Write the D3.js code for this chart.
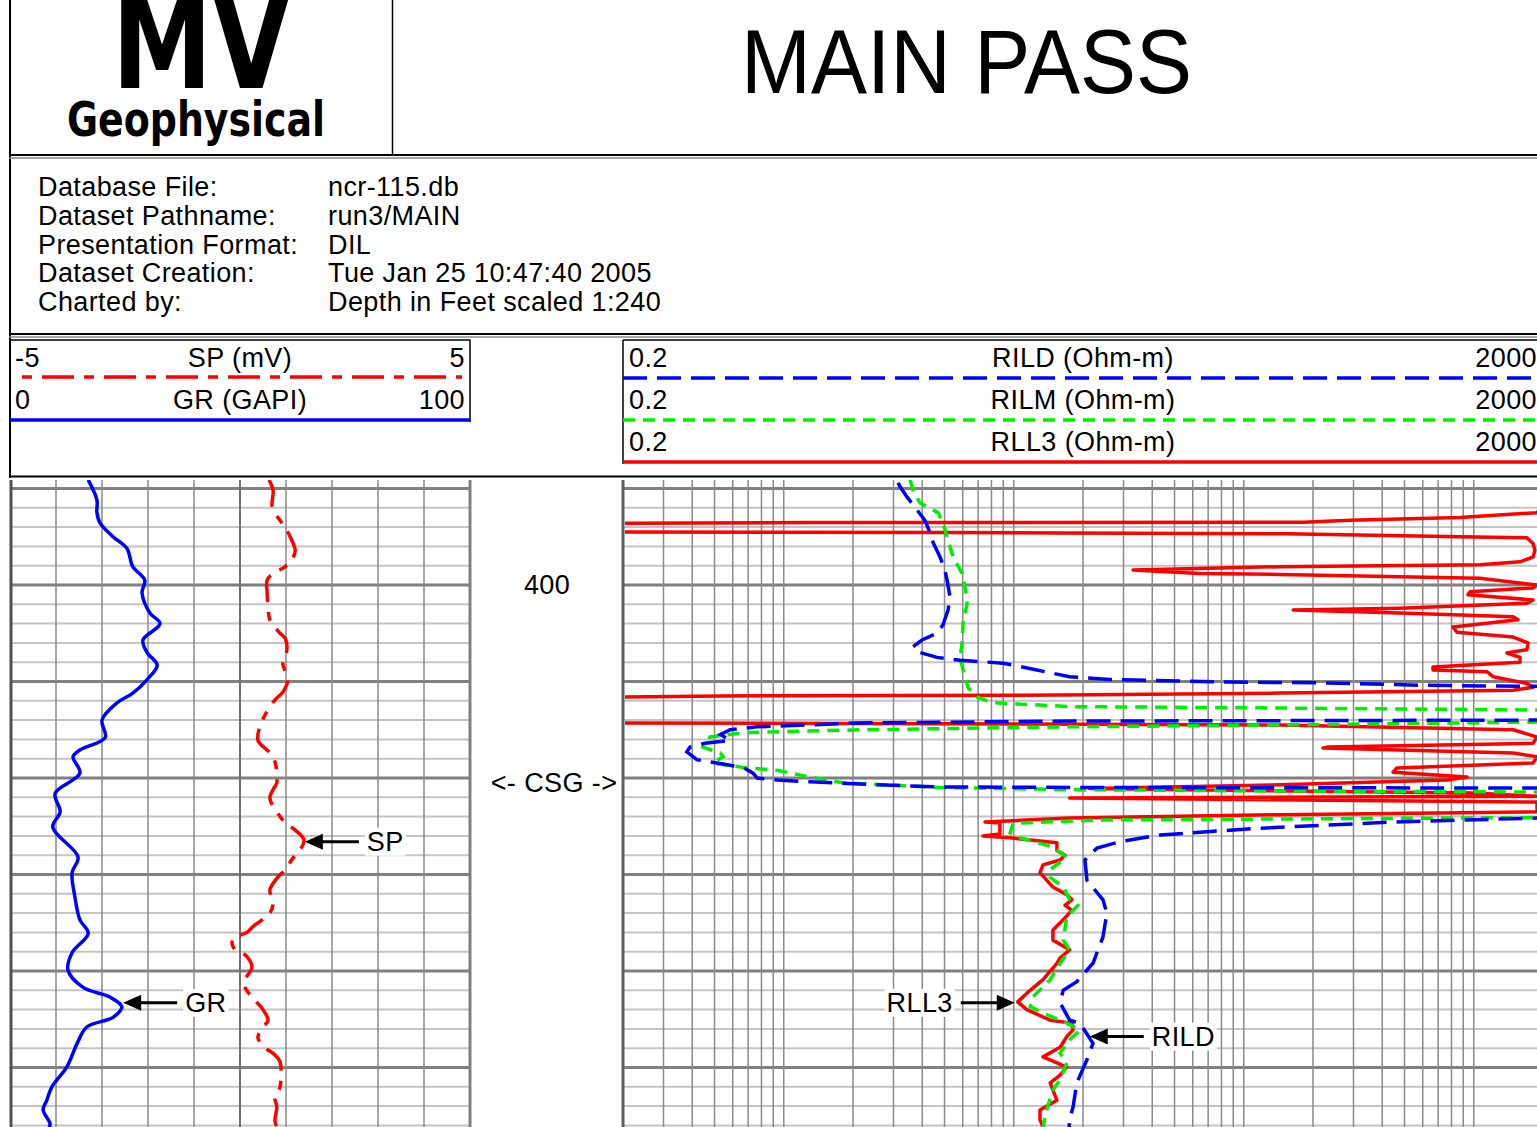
<!DOCTYPE html>
<html><head><meta charset="utf-8">
<script src="https://cdn.jsdelivr.net/npm/d3@7"></script>
<style>
body{margin:0;background:#fff;overflow:hidden}
text{font-family:"Liberation Sans",Arial,sans-serif;fill:#000}
</style>
</head><body>
<svg id="c" width="1537" height="1127" xmlns="http://www.w3.org/2000/svg"></svg>
<script>
// ---------------- DATA ----------------
const titleText = "MAIN PASS";
const infoLabels = ["Database File:", "Dataset Pathname:", "Presentation Format:", "Dataset Creation:", "Charted by:"];
const infoValues = ["ncr-115.db", "run3/MAIN", "DIL", "Tue Jan 25 10:47:40 2005", "Depth in Feet scaled 1:240"];

const spLegend = ["-5", "SP (mV)", "5"];
const grLegend = ["0", "GR (GAPI)", "100"];
const resLegend = [["0.2", "RILD (Ohm-m)", "2000"], ["0.2", "RILM (Ohm-m)", "2000"], ["0.2", "RLL3 (Ohm-m)", "2000"]];

const depthLabels = [400];
const casingLabel = "<- CSG ->";
const casingDepth = 420.5;

// [depth ft, GAPI]
const grData = [[389.1,17.0],[391.2,18.9],[392.5,18.9],[393.6,19.6],[395.0,22.4],[396.2,25.4],[398.1,26.7],[399.5,29.3],[400.8,28.7],[402.9,30.4],[404.0,32.6],[405.7,28.9],[407.0,29.8],[408.3,32.0],[409.8,29.8],[411.2,26.7],[412.2,23.3],[414.0,20.0],[415.8,20.7],[417.1,15.2],[417.8,13.7],[419.5,15.2],[421.6,9.8],[423.5,10.9],[425.1,9.3],[428.2,14.8],[429.8,13.5],[432.3,14.1],[434.7,15.2],[436.1,17.0],[438.1,13.5],[439.9,12.6],[441.7,15.9],[442.7,21.7],[443.7,24.3],[444.8,22.4],[445.8,16.7],[447.5,14.6],[449.9,12.4],[452.0,9.1],[453.4,8.0],[454.4,7.2],[455.8,8.7],[456.2,8.5]];

// [depth ft, mV]
const spData = [[389.1,0.63],[390.2,0.72],[391.9,0.70],[393.3,0.87],[394.0,0.98],[395.0,1.09],[396.4,1.20],[397.2,1.15],[398.1,0.98],[398.8,0.72],[399.5,0.59],[400.8,0.59],[402.3,0.61],[403.6,0.65],[405.0,0.87],[405.5,0.98],[406.7,1.02],[408.1,0.93],[409.8,1.04],[411.1,0.93],[411.9,0.76],[413.5,0.54],[414.7,0.43],[416.1,0.39],[417.4,0.65],[418.3,0.76],[419.5,0.80],[420.5,0.80],[421.2,0.72],[422.1,0.65],[424.0,0.87],[424.6,0.98],[425.4,1.20],[426.4,1.39],[427.5,1.30],[428.3,1.15],[429.5,0.98],[430.4,0.80],[431.6,0.65],[433.0,0.72],[434.0,0.65],[434.5,0.54],[435.4,0.28],[436.0,0.15],[436.6,-0.15],[437.5,-0.15],[438.5,0.15],[439.6,0.26],[440.9,0.11],[441.7,0.11],[442.8,0.28],[444.0,0.50],[445.1,0.61],[445.8,0.50],[446.9,0.39],[447.9,0.54],[448.7,0.76],[449.4,0.87],[452.0,0.87],[453.1,0.76],[454.1,0.80],[455.5,0.76],[456.2,0.80]];

// [depth ft, Ohm-m]  (values below 0.2 / above 2000 run off the track)
const rll3Data = [[389.1,2500],[391.7,2500],[392.5,1884],[393.0,871],[393.3,290],[393.5,181],[393.52,1.3],[393.6,0.1],[394.5,0.1],[394.56,5.3],[394.6,15.9],[394.7,154],[395.0,871],[395.1,1702],[395.7,1811],[396.4,1845],[397.1,1811],[397.6,1589],[397.9,1064],[398.1,144],[398.45,33],[398.8,64.5],[398.9,144],[399.3,1064],[400.0,1884],[400.3,1811],[400.7,964],[401.0,944],[401.55,1811],[401.9,1702],[402.4,478],[402.6,164],[402.9,478],[403.3,1483],[403.6,1556],[404.35,813],[404.9,845],[405.4,1483],[406.0,1722],[406.7,1702],[407.05,1393],[407.5,1589],[408.0,1589],[408.5,665],[408.8,665],[409.0,1143],[409.5,1213],[410.2,1702],[410.6,1811],[410.9,1483],[411.2,144],[411.4,15.9],[411.5,0.53],[411.6,0.1],[414.3,0.1],[414.35,2.08],[414.5,144],[415.0,1483],[415.75,1884],[416.4,1811],[416.8,230],[416.9,221],[417.4,1483],[417.8,1884],[418.45,1811],[418.96,463],[419.4,446],[419.9,935],[420.2,766],[420.7,144],[421.1,21.4],[421.55,1000],[421.9,1884],[422.07,17.5],[422.5,1884],[423.5,1884],[423.8,144],[424.15,17.5],[424.56,7.5],[424.66,8.7],[425.8,8.7],[426.0,7.35],[426.2,9.64],[426.7,15.4],[427.5,15.4],[428.0,16.7],[428.5,15.9],[429.0,13.4],[429.8,13.0],[431.3,14.8],[432.1,17.0],[432.6,17.9],[433.2,16.7],[433.7,17.9],[434.5,16.7],[435.75,14.8],[436.8,14.8],[437.8,17.5],[438.65,15.9],[439.2,15.4],[440.9,13.4],[442.3,11.4],[443.2,10.4],[444.0,11.4],[445.1,14.4],[445.4,17.9],[446.1,18.1],[446.8,17.0],[447.9,15.9],[448.9,13.4],[449.95,17.0],[450.8,15.9],[451.6,14.4],[453.4,15.4],[454.4,13.0],[455.4,13.0],[456.2,13.4]];

const rilmData = [[389.1,3.54],[390.2,3.65],[391.5,3.91],[392.5,4.69],[393.6,4.92],[395.0,5.13],[397.1,5.45],[398.8,5.96],[400.2,6.14],[401.9,6.27],[403.9,6.02],[406.0,5.96],[407.5,5.84],[408.8,6.02],[410.6,6.32],[411.6,6.92],[412.2,8.12],[412.6,17.5],[412.75,144],[412.95,1884],[413.2,2500],[413.99,2500],[414.2,1884],[414.5,144],[414.7,17.5],[415.0,2.21],[415.3,0.665],[415.75,0.478],[416.8,0.445],[417.4,0.53],[417.8,0.545],[418.45,0.492],[418.9,0.665],[419.2,0.934],[419.9,1.30],[420.5,1.81],[421.0,4.92],[421.2,17.5],[421.35,144],[421.45,1884],[421.8,2500],[423.8,2500],[424.1,1884],[424.25,144],[424.35,23.7],[424.7,9.93],[425.7,9.64],[426.1,10.3],[427.15,14.8],[428.2,17.0],[429.5,14.4],[430.3,14.4],[431.3,16.4],[432.6,17.5],[433.2,19.0],[434.4,17.0],[436.8,16.4],[437.8,17.5],[439.2,15.9],[440.9,14.4],[442.7,12.1],[443.7,11.8],[444.35,13.4],[445.4,17.0],[446.1,19.4],[447.15,17.5],[448.5,15.9],[449.5,17.0],[451.3,15.9],[452.3,14.8],[454.4,13.9],[456.2,13.4]];

const rildData = [[389.4,3.14],[389.8,3.20],[390.9,3.44],[392.2,3.79],[393.3,4.11],[394.6,4.33],[395.6,4.46],[397.1,4.78],[398.45,5.02],[399.5,5.13],[401.2,5.28],[402.6,5.18],[404.15,4.92],[405.0,4.63],[405.7,3.99],[406.4,3.65],[406.9,3.79],[407.5,4.63],[407.8,5.84],[408.1,8.98],[408.8,12.6],[409.1,14.4],[409.5,17.5],[409.8,26.2],[410.05,84.6],[410.15,230],[410.4,627],[410.5,1884],[410.7,2500],[413.8,2500],[414.0,1884],[414.1,17.5],[414.3,2.08],[414.5,1.30],[414.7,0.766],[415.0,0.584],[415.5,0.53],[416.1,0.584],[416.4,0.455],[416.8,0.391],[417.3,0.379],[418.1,0.419],[418.45,0.513],[418.9,0.665],[419.5,0.735],[420.0,0.766],[420.2,0.934],[420.4,1.30],[420.7,2.54],[420.93,4.92],[420.98,17.5],[421.04,1884],[421.24,2500],[423.94,2500],[424.15,1884],[424.56,446],[425.2,118],[425.9,43.3],[426.6,29.0],[427.25,23.0],[428.5,20.4],[430.6,20.8],[432.6,24.4],[434.0,25.4],[436.5,24.4],[439.2,22.1],[441.1,18.8],[442.0,16.4],[443.3,15.9],[445.1,17.5],[445.4,19.4],[447.5,22.1],[449.2,20.8],[451.6,18.8],[454.1,18.1],[455.4,17.5],[456.2,17.4]];

// annotation: [label, track, depth, value, direction]
const annotations = [["SP","sp",426.6,1.41,"left"],["GR","gr",443.3,24.6,"left"],["RLL3","res",443.3,10.1,"right"],["RILD","res",446.8,21.4,"left"]];

// ---------------- DRAW ----------------
const svg = d3.select("#c");
const W = 1537, H = 1127;
const trackTop = 480;
const FS = "27px", LS = "0.4px";

const y = d3.scaleLinear().domain([400, 450]).range([585, 1067.5]);
const xGR = d3.scaleLinear().domain([0, 100]).range([10, 470]);
const xSP = d3.scaleLinear().domain([-5, 5]).range([10, 470]);
const xRes = d3.scaleLog().domain([0.2, 2000]).range([623, 1543]).clamp(true);

const txt = (g, x, yy, s, anchor) => g.append("text").attr("x",x).attr("y",yy)
  .attr("text-anchor",anchor||"start").style("font-size",FS).style("letter-spacing",LS).text(s);

// header
svg.append("line").attr("x1",10).attr("x2",10).attr("y1",0).attr("y2",478).attr("stroke","#000").attr("stroke-width",2);
svg.append("line").attr("x1",392.5).attr("x2",392.5).attr("y1",0).attr("y2",155).attr("stroke","#000").attr("stroke-width",1.5);
svg.append("line").attr("x1",9).attr("x2",W).attr("y1",155).attr("y2",155).attr("stroke","#000").attr("stroke-width",2);
svg.append("line").attr("x1",9).attr("x2",W).attr("y1",158).attr("y2",158).attr("stroke","#888").attr("stroke-width",1.5);
svg.append("line").attr("x1",9).attr("x2",W).attr("y1",334).attr("y2",334).attr("stroke","#000").attr("stroke-width",2);
svg.append("line").attr("x1",9).attr("x2",W).attr("y1",337).attr("y2",337).attr("stroke","#888").attr("stroke-width",1.5);
svg.append("line").attr("x1",9).attr("x2",W).attr("y1",476.5).attr("y2",476.5).attr("stroke","#000").attr("stroke-width",2);

svg.append("text").attr("x",112).attr("y",88)
  .style("font-family",'"DejaVu Sans Condensed","DejaVu Sans","Liberation Sans Narrow",Arial')
  .style("font-weight","bold").style("font-size","128px")
  .attr("textLength",178).attr("lengthAdjust","spacingAndGlyphs").text("MV");
svg.append("text").attr("x",67).attr("y",136)
  .style("font-family",'"DejaVu Sans Condensed","DejaVu Sans","Liberation Sans Narrow",Arial')
  .style("font-weight","bold").style("font-size","48px")
  .attr("textLength",258).attr("lengthAdjust","spacingAndGlyphs").text("Geophysical");
svg.append("text").attr("x",741).attr("y",93).style("font-size","90px")
  .attr("textLength",451).attr("lengthAdjust","spacingAndGlyphs").text(titleText);

// info
const infoY = d3.scalePoint().domain(d3.range(infoLabels.length)).range([196, 311]);
infoLabels.forEach((t,i)=>{
  txt(svg, 38, infoY(i), t);
  txt(svg, 328, infoY(i), infoValues[i]);
});

// legends
const lg = svg.append("g");
lg.append("path").attr("d","M10,340H470V422").attr("fill","none").attr("stroke","#000").attr("stroke-width",1.5);
const legRow = (g, x0, xc, x1, yy, arr) => {
  txt(g, x0, yy, arr[0]);
  txt(g, xc, yy, arr[1], "middle");
  txt(g, x1, yy, arr[2], "end");
};
legRow(lg, 15, xSP(0), 465, 367, spLegend);
lg.append("line").attr("x1",22).attr("x2",462).attr("y1",377).attr("y2",377).attr("stroke","#f00").attr("stroke-width",3.5).attr("stroke-dasharray","10,10,32,10");
legRow(lg, 15, xGR(50), 465, 409, grLegend);
lg.append("line").attr("x1",10).attr("x2",470).attr("y1",420).attr("y2",420).attr("stroke","#00f").attr("stroke-width",3.5);

lg.append("line").attr("x1",623).attr("x2",623).attr("y1",340).attr("y2",464).attr("stroke","#000").attr("stroke-width",1.5);
lg.append("line").attr("x1",623).attr("x2",W).attr("y1",340).attr("y2",340).attr("stroke","#000").attr("stroke-width",1.5);
const resStyles = [["#0000ff","24,10"],["#00ee00","12,8"],["#ff0000",null]];
resLegend.forEach((r,i)=>{
  const yy = 367 + i*42;
  legRow(lg, 629, 1083, 1537, yy, r);
  const ln = lg.append("line").attr("x1",623).attr("x2",W).attr("y1",yy+11).attr("y2",yy+11)
    .attr("stroke",resStyles[i][0]).attr("stroke-width",3.5);
  if (resStyles[i][1]) ln.attr("stroke-dasharray",resStyles[i][1]);
});

// ---- grid track 1
const depthMinor = d3.range(390, 457, 2);
const g1 = svg.append("g");
depthMinor.forEach(d=>{
  const maj = d % 10 === 0;
  g1.append("line").attr("x1",10).attr("x2",470).attr("y1",y(d)).attr("y2",y(d))
    .attr("stroke", maj ? "#808080" : "#c4c4c4").attr("stroke-width", maj ? 3 : 2);
});
d3.range(10, 100, 10).forEach(v=>{
  g1.append("line").attr("x1",xGR(v)).attr("x2",xGR(v)).attr("y1",trackTop).attr("y2",H)
    .attr("stroke", v===50 ? "#707070" : "#8a8a8a").attr("stroke-width", v===50 ? 2 : 1.5);
});
g1.append("line").attr("x1",11).attr("x2",11).attr("y1",trackTop).attr("y2",H).attr("stroke","#505050").attr("stroke-width",3);
g1.append("line").attr("x1",470).attr("x2",470).attr("y1",trackTop).attr("y2",H).attr("stroke","#808080").attr("stroke-width",3);

// ---- grid track 2
const g2 = svg.append("g");
depthMinor.forEach(d=>{
  const maj = d % 10 === 0;
  g2.append("line").attr("x1",623).attr("x2",W).attr("y1",y(d)).attr("y2",y(d))
    .attr("stroke", maj ? "#808080" : "#c4c4c4").attr("stroke-width", maj ? 3 : 2);
});
const logLines = [];
[-1,0,1,2,3].forEach(k=>{ for(let m=1;m<=9;m++){ const v=+(m*Math.pow(10,k)).toPrecision(3); if(v>0.2 && v<=2000) logLines.push(v);} });
logLines.forEach(v=>{
  g2.append("line").attr("x1",xRes(v)).attr("x2",xRes(v)).attr("y1",trackTop).attr("y2",H)
    .attr("stroke","#8a8a8a").attr("stroke-width",1.5);
});
g2.append("line").attr("x1",623).attr("x2",623).attr("y1",trackTop).attr("y2",H).attr("stroke","#606060").attr("stroke-width",3);

// depth track labels
depthLabels.forEach(d=>{ txt(svg, 547, y(d)+9, String(d), "middle"); });
txt(svg, 554, y(casingDepth)+9, casingLabel, "middle");

// clips
const defs = svg.append("defs");
defs.append("clipPath").attr("id","c1").append("rect").attr("x",10).attr("y",trackTop).attr("width",460).attr("height",H-trackTop);
defs.append("clipPath").attr("id","c2").append("rect").attr("x",625).attr("y",trackTop).attr("width",W-625).attr("height",H-trackTop);

// curves
const c1 = svg.append("g").attr("clip-path","url(#c1)");
c1.append("path").datum(grData)
  .attr("d", d3.line().x(d=>xGR(d[1])).y(d=>y(d[0])).curve(d3.curveCatmullRom))
  .attr("fill","none").attr("stroke","#0000ff").attr("stroke-width",3.5).attr("stroke-linejoin","round");
c1.append("path").datum(spData)
  .attr("d", d3.line().x(d=>xSP(d[1])).y(d=>y(d[0])).curve(d3.curveCatmullRom))
  .attr("fill","none").attr("stroke","#ff0000").attr("stroke-width",3.5).attr("stroke-dasharray","28,10,9,10");

const c2 = svg.append("g").attr("clip-path","url(#c2)");
const resLine = d3.line().x(d=>xRes(d[1])).y(d=>y(d[0]));
c2.append("path").datum(rll3Data).attr("d",resLine)
  .attr("fill","none").attr("stroke","#ff0000").attr("stroke-width",3.5).attr("stroke-linejoin","round");
c2.append("path").datum(rilmData).attr("d",resLine)
  .attr("fill","none").attr("stroke","#00ee00").attr("stroke-width",3.5).attr("stroke-dasharray","12,8");
c2.append("path").datum(rildData).attr("d",resLine)
  .attr("fill","none").attr("stroke","#0000ff").attr("stroke-width",3.5).attr("stroke-dasharray","24,10");

// annotations
const ag = svg.append("g");
annotations.forEach(([lab, tr, dep, val, dir])=>{
  const tx = tr==="gr" ? xGR(val) : tr==="sp" ? xSP(val) : xRes(val);
  const ty = y(dep);
  const s = dir==="left" ? 1 : -1;
  const len = 54;
  ag.append("line").attr("x1",tx+s*12).attr("x2",tx+s*len).attr("y1",ty).attr("y2",ty).attr("stroke","#000").attr("stroke-width",3);
  ag.append("path").attr("d",`M${tx},${ty}L${tx+s*18},${ty-8}L${tx+s*18},${ty+8}Z`).attr("fill","#000");
  const t = txt(ag, tx + s*(len+8), ty+9, lab, dir==="left" ? "start" : "end");
  const bb = t.node().getBBox();
  ag.insert("rect", () => t.node()).attr("x",bb.x-2).attr("y",bb.y+1).attr("width",bb.width+4).attr("height",bb.height-2).attr("fill","#fff");
});
</script>
</body></html>
